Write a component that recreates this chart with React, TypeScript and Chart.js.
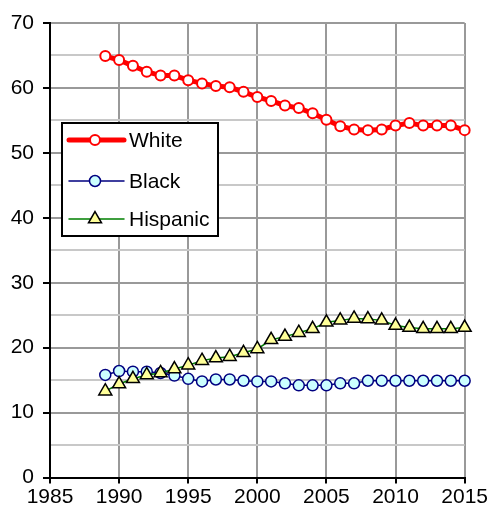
import React, { useEffect, useRef } from 'react';
import { Chart, registerables } from 'chart.js';

Chart.register(...registerables);

const years = [1989, 1990, 1991, 1992, 1993, 1994, 1995, 1996, 1997, 1998, 1999, 2000, 2001, 2002, 2003, 2004, 2005, 2006, 2007, 2008, 2009, 2010, 2011, 2012, 2013, 2014, 2015];
const white = [64.9, 64.3, 63.4, 62.5, 61.9, 61.9, 61.2, 60.7, 60.3, 60.1, 59.4, 58.6, 58.0, 57.3, 56.9, 56.1, 55.1, 54.1, 53.6, 53.5, 53.6, 54.2, 54.6, 54.2, 54.2, 54.2, 53.5];
const black = [15.8, 16.4, 16.3, 16.3, 16.1, 15.7, 15.2, 14.8, 15.1, 15.1, 14.9, 14.8, 14.8, 14.5, 14.2, 14.2, 14.2, 14.5, 14.5, 14.9, 14.9, 14.9, 14.9, 14.9, 14.9, 14.9, 14.9];
const hispanic = [13.3, 14.4, 15.2, 15.8, 16.1, 16.7, 17.3, 18.0, 18.4, 18.6, 19.2, 19.8, 21.2, 21.7, 22.3, 22.9, 23.9, 24.2, 24.5, 24.4, 24.2, 23.4, 23.1, 22.9, 22.9, 22.9, 23.1];
const seriesLabels = ['White', 'Black', 'Hispanic'];

const FONT = "'Liberation Sans', Arial, sans-serif";
const FONT_SIZE = 21;

const legendPlugin = {
  id: 'boxLegend',
  afterDraw(chart: any) {
    const ctx = chart.ctx;
    ctx.save();
    const bx = 62, by = 123, bw = 156, bh = 113;
    ctx.fillStyle = '#ffffff';
    ctx.fillRect(bx, by, bw, bh);
    ctx.strokeStyle = '#000000';
    ctx.lineWidth = 2;
    ctx.strokeRect(bx, by, bw, bh);
    const rows = [140, 181, 219];
    chart.data.datasets.forEach((ds: any, i: number) => {
      const y = rows[i];
      ctx.beginPath();
      ctx.strokeStyle = ds.borderColor;
      ctx.lineWidth = ds.borderWidth;
      ctx.lineCap = 'round';
      ctx.moveTo(69, y);
      ctx.lineTo(124, y);
      ctx.stroke();
      ctx.lineCap = 'butt';
      ctx.fillStyle = ds.pointBackgroundColor;
      ctx.strokeStyle = ds.pointBorderColor;
      ctx.lineWidth = ds.pointBorderWidth;
      const r = ds.pointRadius;
      const cx = 95;
      ctx.beginPath();
      if (ds.pointStyle === 'triangle') {
        ctx.moveTo(cx, y - r);
        ctx.lineTo(cx + r * Math.sin(Math.PI / 3), y + r / 2);
        ctx.lineTo(cx - r * Math.sin(Math.PI / 3), y + r / 2);
        ctx.closePath();
      } else {
        ctx.arc(cx, y, r, 0, Math.PI * 2);
      }
      ctx.fill();
      ctx.stroke();
      ctx.fillStyle = '#000000';
      ctx.font = `${FONT_SIZE}px ${FONT}`;
      ctx.textBaseline = 'middle';
      ctx.textAlign = 'left';
      ctx.fillText(ds.label, 129, y + 1);
    });
    ctx.restore();
  },
};

export default function App() {
  const canvasRef = useRef<HTMLCanvasElement | null>(null);

  useEffect(() => {
    if (!canvasRef.current) return;
    const toPts = (arr: number[]) => years.map((yr, i) => ({ x: yr, y: arr[i] }));
    const chart = new Chart(canvasRef.current, {
      type: 'line',
      data: {
        datasets: [
          {
            label: seriesLabels[0],
            data: toPts(white),
            borderColor: '#ff0000',
            borderWidth: 5,
            pointStyle: 'circle',
            pointRadius: 5,
            pointBackgroundColor: '#ffffff',
            pointBorderColor: '#ff0000',
            pointBorderWidth: 2,
            clip: false,
            order: 0,
          },
          {
            label: seriesLabels[1],
            data: toPts(black),
            borderColor: '#000080',
            borderWidth: 1.5,
            pointStyle: 'circle',
            pointRadius: 5.5,
            pointBackgroundColor: '#ccffff',
            pointBorderColor: '#000080',
            pointBorderWidth: 1.5,
            clip: false,
            order: 2,
          },
          {
            label: seriesLabels[2],
            data: toPts(hispanic),
            borderColor: '#008000',
            borderWidth: 1.5,
            pointStyle: 'triangle',
            pointRadius: 7.5,
            pointBackgroundColor: '#ffff99',
            pointBorderColor: '#000000',
            pointBorderWidth: 1.5,
            clip: false,
            order: 1,
          },
        ] as any,
      },
      options: {
        animation: false,
        responsive: false,
        maintainAspectRatio: false,
        layout: { padding: { top: 23, right: 23, left: 0, bottom: 0 } },
        plugins: { legend: { display: false }, tooltip: { enabled: false } },
        scales: {
          x: {
            type: 'linear',
            min: 1985,
            max: 2015,
            ticks: {
              stepSize: 5,
              color: '#000000',
              font: { family: FONT, size: FONT_SIZE },
              padding: 1,
              maxRotation: 0,
              callback: (v: any) => String(v),
            },
            grid: {
              color: '#999999',
              lineWidth: 2,
              tickColor: '#000000',
              tickLength: 6,
              tickWidth: 2,
            },
            border: { color: '#000000', width: 2 },
            afterFit: (scale: any) => {
              scale.height = 39.5;
            },
          },
          y: {
            type: 'linear',
            min: 0,
            max: 70,
            ticks: {
              stepSize: 5,
              autoSkip: false,
              color: '#000000',
              font: { family: FONT, size: FONT_SIZE },
              padding: 9,
              callback: (v: any) => (Number(v) % 10 === 0 ? String(v) : ''),
            },
            grid: {
              color: (c: any) => (c.tick && c.tick.value % 10 === 0 ? '#999999' : '#c8c8c8'),
              lineWidth: 2,
              tickColor: (c: any) => (c.tick && c.tick.value % 10 === 0 ? '#000000' : 'rgba(0,0,0,0)'),
              tickLength: 7,
              tickWidth: 2,
            },
            border: { color: '#000000', width: 2 },
            afterFit: (scale: any) => {
              scale.width = 50;
            },
          },
        },
      } as any,
      plugins: [legendPlugin],
    });
    return () => chart.destroy();
  }, []);

  return (
    <div style={{ position: 'fixed', left: 0, top: 0, width: 489, height: 517, background: '#ffffff' }}>
      <canvas ref={canvasRef} width={489} height={517} style={{ display: 'block' }} />
    </div>
  );
}
